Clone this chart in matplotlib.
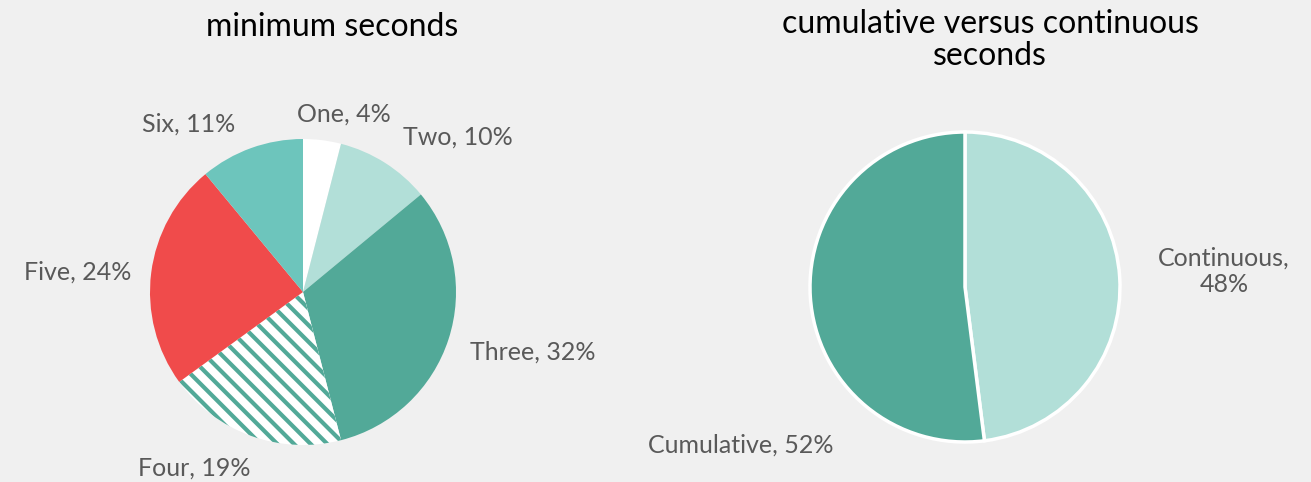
#!/usr/bin/env python3
# -*- coding: utf-8 -*-
import matplotlib
matplotlib.use("Agg")
import matplotlib.pyplot as plt

# minimum seconds breakdown
min_labels = ["One", "Two", "Three", "Four", "Five", "Six"]
min_values = [4, 10, 32, 19, 24, 11]

# cumulative vs continuous
cc_labels = ["Continuous", "Cumulative"]
cc_values = [48, 52]

TEAL = "#52a998"
LIGHT = "#b2dfd8"
MID = "#6dc5bc"
RED = "#f04b4b"
GREY_TEXT = "#595959"
BG = "#f0f0f0"

plt.rcParams['font.family'] = ['Lato', 'DejaVu Sans']
plt.rcParams['hatch.linewidth'] = 3.0


def draw_pie(ax, values, colors, hatches, edge, lw):
    wedges, _ = ax.pie(values, colors=colors, startangle=90, counterclock=False,
                       wedgeprops=dict(linewidth=lw, edgecolor=edge))
    for w, h in zip(wedges, hatches):
        if h:
            w.set_hatch(h)
            w.set_edgecolor(TEAL)
            w.set_linewidth(0)
    return wedges


fig = plt.figure(figsize=(13.11, 4.82), dpi=100)
fig.patch.set_facecolor(BG)

# left pie
ax1 = fig.add_axes([0, 0, 0.5, 1])
ax1.set_facecolor(BG)
draw_pie(ax1, min_values, ["white", LIGHT, TEAL, "white", RED, MID],
         [None, None, None, "\\\\", None, None], "none", 0)
ax1.set_aspect("auto")
ax1.set_xlim(-303 / 153, (655.5 - 303) / 153)
ax1.set_ylim(-190 / 153, 292 / 153)
ax1.axis("off")

# label offsets in radius units
min_pos = [(0.27, 1.16), (1.01, 1.01), (1.50, -0.39),
           (-0.71, -1.15), (-1.47, 0.13), (-0.75, 1.10)]
for name, val, (x, y) in zip(min_labels, min_values, min_pos):
    ax1.text(x, y, "{}, {}%".format(name, val), ha="center", va="center",
             fontsize=18, color=GREY_TEXT)

# right pie
ax2 = fig.add_axes([0.5, 0, 0.5, 1])
ax2.set_facecolor(BG)
draw_pie(ax2, cc_values, [LIGHT, TEAL], [None, None], "white", 2.5)
ax2.set_aspect("auto")
ax2.set_xlim(-(965 - 655.5) / 155, (1311 - 965) / 155)
ax2.set_ylim(-195 / 155, 287 / 155)
ax2.axis("off")

cc_text = ["{},\n{}%", "{}, {}%"]
cc_pos = [(1.67, 0.10), (-1.45, -1.02)]
for name, val, fmt, (x, y) in zip(cc_labels, cc_values, cc_text, cc_pos):
    ax2.text(x, y, fmt.format(name, val), ha="center", va="center",
             fontsize=18, color=GREY_TEXT, linespacing=1.2)

fig.text(332 / 1311, 1 - 27 / 482, "minimum seconds", ha="center", va="center",
         fontsize=23, color="black")
fig.text(990 / 1311, 1 - 40 / 482, "cumulative versus continuous\nseconds",
         ha="center", va="center", fontsize=23, color="black", linespacing=1.1)

fig.savefig("out.png", dpi=100, facecolor=BG)
